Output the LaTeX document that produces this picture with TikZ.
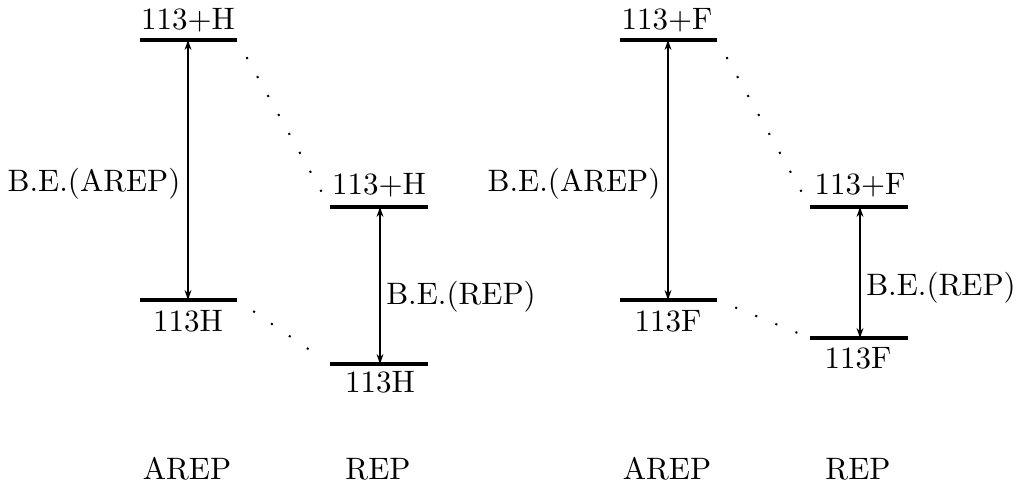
\documentclass[tikz,border=0pt]{standalone}
\usetikzlibrary{arrows.meta}
\begin{document}
\begin{tikzpicture}[x=0.3226pt,y=-0.3226pt,
  level/.style={line width=1.05pt},
  gap/.style={{Stealth[length=3.2pt,width=2.2pt]}-{Stealth[length=3.2pt,width=2.2pt]}, line width=0.5pt},
  dots/.style={line width=0.65pt, dash pattern=on 0.65pt off 6.35pt, dash phase=0.65pt},
  lbl/.style={anchor=base, inner sep=0pt, font=\fontsize{10}{12}\selectfont}]
\useasboundingbox (0,0) rectangle (1018,489);

% ---------- left group (H) ----------
\coordinate (h1a) at (140,40);  \coordinate (h1b) at (237,40);  \coordinate (h1c) at (188,40);
\coordinate (h2a) at (140,300); \coordinate (h2b) at (237,300); \coordinate (h2c) at (188,300);
\coordinate (h3a) at (330,207); \coordinate (h3b) at (428,207); \coordinate (h3c) at (380,207);
\coordinate (h4a) at (330,364); \coordinate (h4b) at (428,364); \coordinate (h4c) at (380,364);

\draw[level] (h1a) -- (h1b);
\draw[level] (h2a) -- (h2b);
\draw[level] (h3a) -- (h3b);
\draw[level] (h4a) -- (h4b);
\draw[gap] (h2c) -- (h1c);
\draw[gap] (h4c) -- (h3c);
\draw[dots] (h1b) -- (h3a);
\draw[dots, shorten >=3pt] (h2b) -- (h4a);

\node[lbl] (ht1) at (188,30)  {113+H};
\node[lbl] (ht2) at (188,332) {113H};
\node[lbl] (ht3) at (379,195) {113+H};
\node[lbl] (ht4) at (380,393) {113H};
\node[lbl] (hb1) at (94,192)  {B.E.(AREP)};
\node[lbl] (hb2) at (461,305) {B.E.(REP)};
\node[lbl] (hm1) at (187,480) {AREP};
\node[lbl] (hm2) at (378,480) {REP};

% ---------- right group (F) ----------
\coordinate (f1a) at (620,40);  \coordinate (f1b) at (717,40);  \coordinate (f1c) at (668,40);
\coordinate (f2a) at (620,300); \coordinate (f2b) at (717,300); \coordinate (f2c) at (668,300);
\coordinate (f3a) at (810,207); \coordinate (f3b) at (908,207); \coordinate (f3c) at (860,207);
\coordinate (f4a) at (810,338); \coordinate (f4b) at (908,338); \coordinate (f4c) at (860,338);

\draw[level] (f1a) -- (f1b);
\draw[level] (f2a) -- (f2b);
\draw[level] (f3a) -- (f3b);
\draw[level] (f4a) -- (f4b);
\draw[gap] (f2c) -- (f1c);
\draw[gap] (f4c) -- (f3c);
\draw[dots] (f1b) -- (f3a);
\draw[dots, shorten >=3pt] (f2b) -- (f4a);

\node[lbl] (ft1) at (667,30)  {113+F};
\node[lbl] (ft2) at (668,332) {113F};
\node[lbl] (ft3) at (860,195) {113+F};
\node[lbl] (ft4) at (858,369) {113F};
\node[lbl] (fb1) at (574,192) {B.E.(AREP)};
\node[lbl] (fb2) at (941,296) {B.E.(REP)};
\node[lbl] (fm1) at (667,480) {AREP};
\node[lbl] (fm2) at (858,480) {REP};
\end{tikzpicture}
\end{document}
